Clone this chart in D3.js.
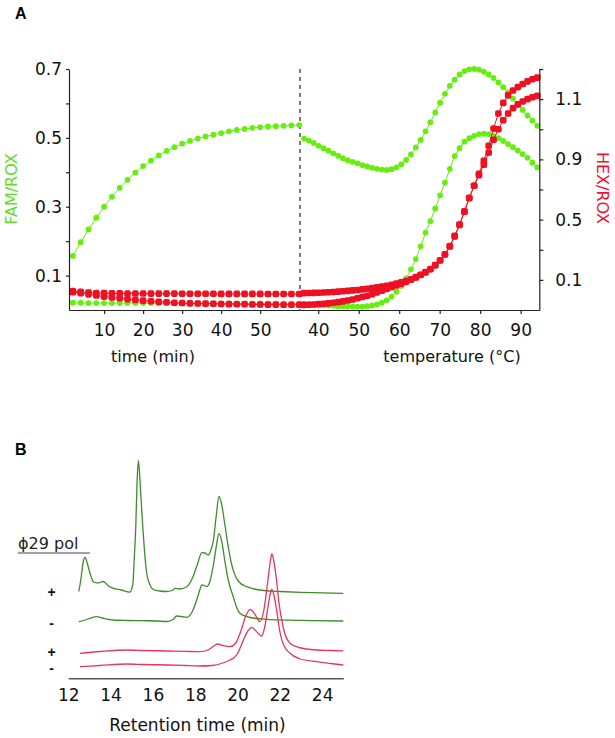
<!DOCTYPE html>
<html><head><meta charset="utf-8">
<script src="https://cdn.jsdelivr.net/npm/d3@7"></script>
<style>body{margin:0;background:#fff}svg{display:block}</style>
</head><body>
<script>
// ---------------- DATA ----------------
// Panel A, left section: isothermal time course
const timeMin = [2,4,6,8,10,12,14,16,18,20,22,24,26,28,30,32,34,36,38,40,42,44,46,48,50,52,54,56,58,60];
const famTimeA = [0.157,0.197,0.234,0.268,0.300,0.329,0.355,0.378,0.399,0.418,0.434,0.449,0.462,0.473,0.483,0.491,0.498,0.504,0.509,0.514,0.519,0.523,0.526,0.529,0.531,0.533,0.534,0.535,0.536,0.537];
const famTimeB = [0.021,0.021,0.020,0.020,0.020,0.020,0.020,0.020,0.020,0.020,0.020,0.020,0.020,0.019,0.019,0.019,0.019,0.019,0.019,0.019,0.019,0.019,0.019,0.019,0.019,0.018,0.018,0.018,0.018,0.018];
const hexTimeA = [0.026,0.021,0.016,0.013,0.012,0.011,0.011,0.010,0.010,0.010,0.009,0.009,0.009,0.009,0.008,0.008,0.008,0.008,0.008,0.007,0.007,0.007,0.007,0.007,0.007,0.006,0.006,0.006,0.006,0.006];
const hexTimeB = [0.018,0.012,0.004,-0.004,-0.011,-0.017,-0.022,-0.028,-0.033,-0.038,-0.042,-0.046,-0.049,-0.052,-0.054,-0.056,-0.057,-0.058,-0.059,-0.060,-0.061,-0.062,-0.062,-0.063,-0.063,-0.064,-0.064,-0.065,-0.065,-0.065];
// Panel A, right section: melting curve
const tempC = [36.5,37.7,38.9,40.1,41.3,42.5,43.7,44.9,46.1,47.3,48.5,49.7,50.9,52.1,53.3,54.5,55.7,56.9,58.1,59.3,60.5,61.7,62.9,64.1,65.3,66.5,67.7,68.9,70.1,71.3,72.5,73.7,74.9,76.1,77.3,78.5,79.7,80.9,82.1,83.3,84.5,85.7,86.9,88.1,89.3,90.5,91.7,92.9,94.1];
const famMeltA = [0.498,0.492,0.485,0.477,0.470,0.463,0.455,0.448,0.441,0.435,0.430,0.426,0.421,0.417,0.413,0.410,0.408,0.407,0.409,0.414,0.423,0.436,0.452,0.472,0.494,0.519,0.545,0.574,0.602,0.628,0.651,0.669,0.684,0.694,0.699,0.700,0.698,0.692,0.684,0.674,0.661,0.647,0.632,0.614,0.597,0.581,0.565,0.550,0.535];
const famMeltB = [0.018,0.017,0.016,0.015,0.014,0.013,0.012,0.011,0.011,0.010,0.010,0.010,0.010,0.011,0.013,0.016,0.021,0.028,0.039,0.053,0.070,0.092,0.118,0.148,0.185,0.225,0.258,0.295,0.333,0.370,0.410,0.447,0.470,0.489,0.499,0.506,0.511,0.512,0.511,0.506,0.499,0.491,0.482,0.473,0.463,0.453,0.442,0.428,0.414];
const hexMeltA = [0.012,0.013,0.014,0.015,0.016,0.018,0.020,0.022,0.024,0.027,0.030,0.033,0.037,0.041,0.045,0.050,0.055,0.061,0.068,0.075,0.084,0.093,0.104,0.118,0.134,0.152,0.172,0.198,0.230,0.270,0.325,0.392,0.468,0.555,0.645,0.725,0.795,0.865,0.945,1.030,1.100,1.160,1.205,1.240,1.265,1.284,1.300,1.312,1.322];
const hexMeltB = [-0.066,-0.065,-0.063,-0.061,-0.059,-0.056,-0.052,-0.048,-0.043,-0.037,-0.030,-0.022,-0.014,-0.005,0.005,0.016,0.028,0.040,0.052,0.063,0.074,0.087,0.101,0.116,0.132,0.150,0.171,0.197,0.229,0.268,0.322,0.388,0.465,0.552,0.642,0.725,0.805,0.890,0.990,1.105,1.205,1.275,1.325,1.357,1.380,1.400,1.418,1.432,1.443];
// Axis ticks, panel A
const timeTicks = [10,20,30,40,50];
const tempTicks = [40,50,60,70,80,90];
const famTicks = [0.1,0.2,0.3,0.4,0.5,0.6,0.7];
const famLabelVals = [0.1,0.3,0.5,0.7];
const hexTicks = [0.1,0.3,0.5,0.7,0.9,1.1,1.3,1.5];
const hexLabelPos = [0.1,0.5,0.9,1.3];
const hexLabelText = ["0.1","0.5","0.9","1.1"];
// Panel B chromatograms (retention time, signal)
const gPlusT = [12.50,12.60,12.70,12.79,12.90,13.03,13.20,13.40,13.65,13.90,14.13,14.50,14.90,15.05,15.12,15.19,15.25,15.31,15.38,15.45,15.52,15.60,15.71,15.85,16.02,16.30,16.65,16.90,17.05,17.25,17.60,17.90,18.10,18.31,18.45,18.62,18.75,18.86,19.00,19.12,19.25,19.40,19.55,19.70,19.85,20.05,20.43,20.80,21.06,21.50,22.00,23.00,24.00,25.00];
const gPlusV = [1,14,30,35,29,19,10.5,9.5,11,6.5,4.2,2.5,0.3,8,35,66,110,132,115,90,66,42,19,8,3,1.5,1,2,4.2,3.5,5.8,16,28,39.8,39.5,37.5,43,52.5,78,96,88,68,47,30,19,11,5.8,3.5,2.5,1.5,1,0.2,-0.4,-0.8];
const gMinusT = [12.50,12.80,13.10,13.34,13.60,14.13,14.80,15.50,16.20,16.65,16.95,17.12,17.35,17.60,17.85,18.07,18.20,18.31,18.42,18.54,18.70,18.85,19.00,19.12,19.25,19.40,19.55,19.80,19.95,20.10,20.44,20.90,21.38,22.50,23.50,25.00];
const gMinusV = [-0.7,1.0,3.2,4.3,3.0,1.0,0.5,0.3,0,-0.5,1.5,5,4.5,3.7,9,21,30,36,35.5,34.3,40,55,75,87.7,80,60,42,24,14,8,4.3,2.5,1.7,0.8,0.3,0];
const rPlusT = [12.55,13.50,14.76,15.60,16.70,17.50,18.23,18.60,18.85,19.05,19.30,19.64,19.90,20.15,20.40,20.59,20.80,21.06,21.25,21.40,21.55,21.62,21.70,21.85,21.95,22.15,22.48,22.90,23.74,24.40,25.00];
const rPlusV = [-1.8,0,1.5,1,0.5,0.2,-0.2,1.5,5,7.5,6,4.8,8,20,36,42.2,38,29.8,42,65,90,97.5,92,70,50,25,8.2,4,1.5,1,0.5];
const rMinusT = [12.55,13.50,14.76,15.60,16.70,17.50,18.23,18.80,19.30,19.64,19.80,20.00,20.25,20.50,20.67,20.85,21.14,21.30,21.45,21.55,21.62,21.70,21.85,21.95,22.15,22.48,22.90,23.74,24.40,25.00];
const rMinusV = [-1.2,0,1.5,1.0,0.5,0,-0.5,0,2.5,5.5,7.2,12,24,35,38.2,35,29.5,40,60,72,76.2,72,55,40,22,12.2,7,3.8,2,0.5];
const retTicks = [12,14,16,18,20,22,24];
const traceSigns = ["+","-","+","-"];

// ---------------- DRAWING ----------------
const FONT = "'DejaVu Sans', sans-serif";
const BOLD = "'Liberation Sans', Arial, sans-serif";
const GREEN = "#66ee11", RED = "#ee1122";
const svg = d3.select("body").append("svg").attr("width",615).attr("height",738);

const xTime = d3.scaleLinear().domain([1,60.2]).range([69,300]);
const xTemp = d3.scaleLinear().domain([35.5,94.6]).range([300,539.3]);
const yFam = d3.scaleLinear().domain([0,0.7]).range([310,69]);
const yHex = d3.scaleLinear().domain([-0.1,1.5]).range([310,69]);

function styleAxis(g, size){
  g.selectAll("text").attr("font-family",FONT).attr("font-size",size).attr("fill","#111");
  g.selectAll("path,line").attr("stroke","#222").attr("stroke-width",1.2);
}
const near = (a,b)=>Math.abs(a-b)<1e-9;

// dashed separator
svg.append("line").attr("x1",xTime.range()[1]).attr("x2",xTime.range()[1])
  .attr("y1",yFam(0.7)).attr("y2",yFam(0)).attr("stroke","#222").attr("stroke-width",1.2)
  .attr("stroke-dasharray","4,4");

// series
function series(xs, ys, xS, yS, color, shape){
  const line = d3.line().x((d,i)=>xS(xs[i])).y((d,i)=>yS(ys[i]));
  const g = svg.append("g");
  g.append("path").attr("d",line(ys)).attr("fill","none").attr("stroke",color).attr("stroke-width",1);
  if(shape==="circle"){
    g.selectAll("circle").data(ys).join("circle")
      .attr("cx",(d,i)=>xS(xs[i])).attr("cy",d=>yS(d)).attr("r",2.9).attr("fill",color);
  } else {
    g.selectAll("rect").data(ys).join("rect")
      .attr("x",(d,i)=>xS(xs[i])-3.3).attr("y",d=>yS(d)-3.3).attr("width",6.6).attr("height",6.6)
      .attr("rx",1.8).attr("fill",color);
  }
}
series(timeMin, famTimeA, xTime, yFam, GREEN, "circle");
series(timeMin, famTimeB, xTime, yFam, GREEN, "circle");
series(tempC, famMeltA, xTemp, yFam, GREEN, "circle");
series(tempC, famMeltB, xTemp, yFam, GREEN, "circle");
series(timeMin, hexTimeA, xTime, yHex, RED, "rect");
series(timeMin, hexTimeB, xTime, yHex, RED, "rect");
series(tempC, hexMeltA, xTemp, yHex, RED, "rect");
series(tempC, hexMeltB, xTemp, yHex, RED, "rect");

// axes panel A
const gl = svg.append("g").attr("transform","translate(69,0)")
  .call(d3.axisLeft(yFam).tickValues(famTicks).tickSize(3).tickPadding(4).tickSizeOuter(0)
    .tickFormat(d=> famLabelVals.some(v=>near(v,d)) ? d3.format(".1f")(d) : ""));
styleAxis(gl,17);
const gr = svg.append("g").attr("transform","translate(539.3,0)")
  .call(d3.axisRight(yHex).tickValues(hexTicks).tickSize(4).tickPadding(12).tickSizeOuter(0)
    .tickFormat(d=>{const i = hexLabelPos.findIndex(v=>near(v,d)); return i>=0 ? hexLabelText[i] : "";}));
styleAxis(gr,17);
const gb1 = svg.append("g").attr("transform","translate(0,310)")
  .call(d3.axisBottom(xTime).tickValues(timeTicks).tickSize(4).tickPadding(10).tickSizeOuter(0));
styleAxis(gb1,17);
const gb2 = svg.append("g").attr("transform","translate(0,310)")
  .call(d3.axisBottom(xTemp).tickValues(tempTicks).tickSize(4).tickPadding(10).tickSizeOuter(0));
styleAxis(gb2,17);

// axis titles panel A
svg.append("text").attr("x",153).attr("y",362).attr("text-anchor","middle")
  .attr("font-family",FONT).attr("font-size",16).attr("fill","#111").text("time (min)");
svg.append("text").attr("x",452).attr("y",362).attr("text-anchor","middle")
  .attr("font-family",FONT).attr("font-size",16).attr("fill","#111").text("temperature (°C)");
svg.append("text").attr("transform","translate(17,189) rotate(-90)").attr("text-anchor","middle")
  .attr("font-family",FONT).attr("font-size",16).attr("fill","#66dd22").text("FAM/ROX");
svg.append("text").attr("transform","translate(597,188) rotate(90)").attr("text-anchor","middle")
  .attr("font-family",FONT).attr("font-size",16).attr("fill","#ee1133").text("HEX/ROX");

// panel letters
svg.append("text").attr("x",15).attr("y",18.5).attr("font-family",BOLD).attr("font-weight","bold")
  .attr("font-size",16).text("A");
svg.append("text").attr("x",15).attr("y",455).attr("font-family",BOLD).attr("font-weight","bold")
  .attr("font-size",16).text("B");

// ---------------- PANEL B ----------------
const xRet = d3.scaleLinear().domain([12,25]).range([68.3,343.3]);
const ySig = d3.scaleLinear().domain([0,100]).range([0,-100]);
const traceBase = [592.5,621,651.5,665.5];
const traces = [
  {t:gPlusT, v:gPlusV, c:"#3e8c2c"},
  {t:gMinusT, v:gMinusV, c:"#3e8c2c"},
  {t:rPlusT, v:rPlusV, c:"#e6365a"},
  {t:rMinusT, v:rMinusV, c:"#e6365a"}
];
traces.forEach((tr,k)=>{
  const line = d3.line().x((d,i)=>xRet(tr.t[i])).y(d=>traceBase[k]+ySig(d)).curve(d3.curveMonotoneX);
  svg.append("path").attr("d",line(tr.v)).attr("fill","none").attr("stroke",tr.c).attr("stroke-width",1.3);
});
const gB = svg.append("g").attr("transform","translate(0,678.3)")
  .call(d3.axisBottom(xRet).tickValues(retTicks).tickSize(0).tickPadding(11).tickSizeOuter(0));
gB.selectAll("text").attr("font-family",FONT).attr("font-size",17).attr("fill","#111");
gB.select(".domain").attr("stroke","#555").attr("stroke-width",1.6);
svg.append("text").attr("x",197.5).attr("y",731).attr("text-anchor","middle")
  .attr("font-family",FONT).attr("font-size",17).attr("fill","#111").text("Retention time (min)");

// phi29 pol label
svg.append("text").attr("x",18).attr("y",549).attr("font-family",FONT).attr("font-size",16)
  .attr("fill","#222").text("ϕ29 pol");
svg.append("line").attr("x1",18).attr("x2",90).attr("y1",553).attr("y2",553)
  .attr("stroke","#444").attr("stroke-width",1);
const signY = [597,628,657,673];
traceSigns.forEach((s,k)=>{
  svg.append("text").attr("x",51.7).attr("y",signY[k]).attr("text-anchor","middle")
    .attr("font-family",BOLD).attr("font-weight","bold").attr("font-size",14).attr("fill","#111").text(s);
});
</script>
</body></html>
